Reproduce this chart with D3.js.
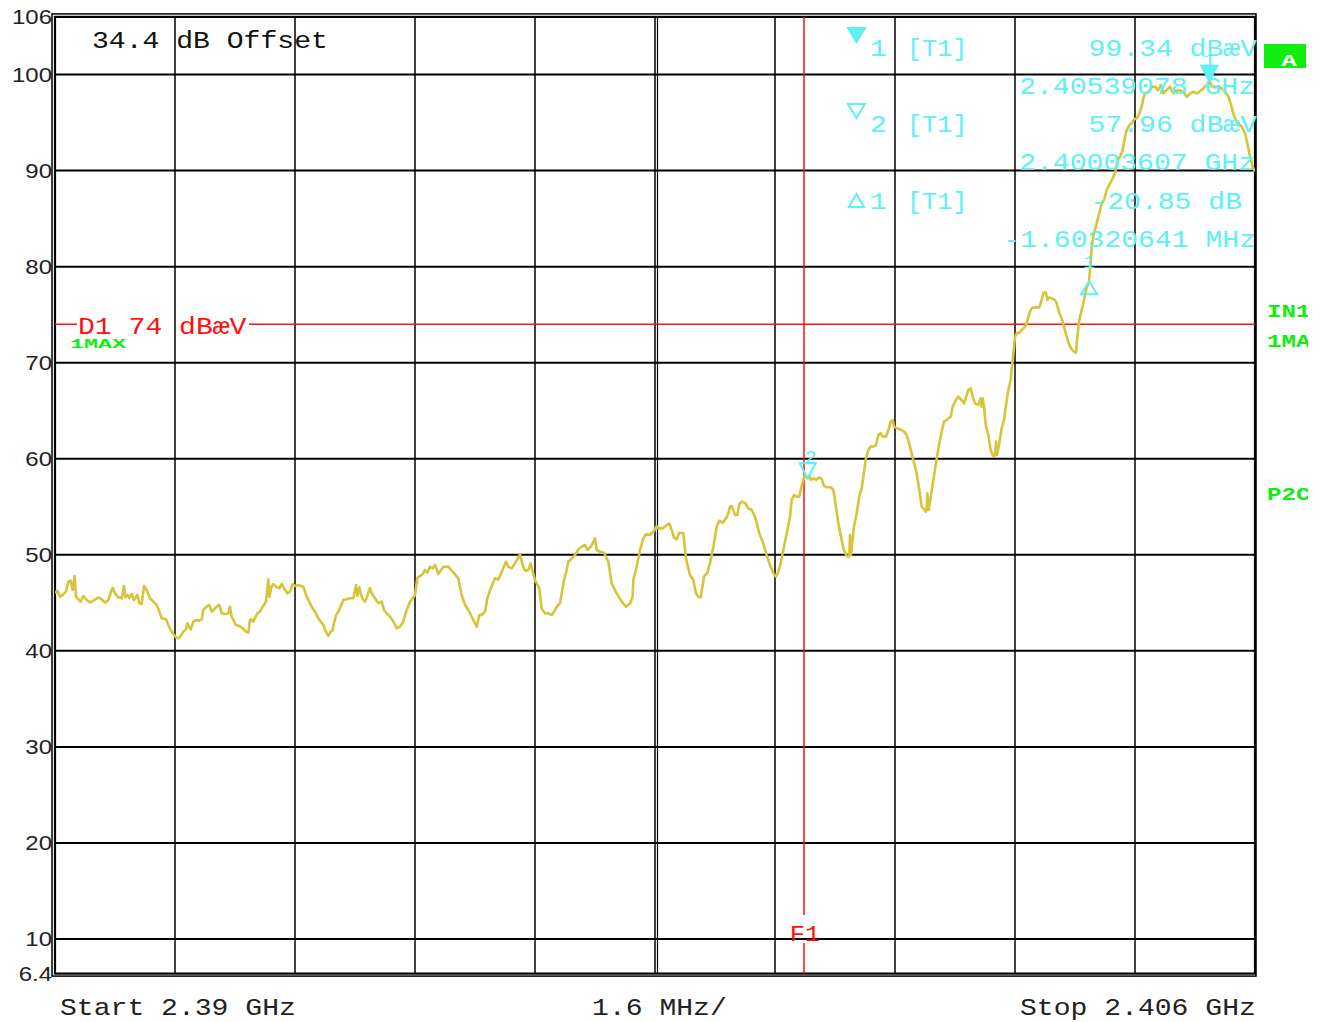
<!DOCTYPE html>
<html>
<head>
<meta charset="utf-8">
<script src="https://cdn.jsdelivr.net/npm/d3@7"></script>
<style>
  html, body { margin: 0; padding: 0; background: #fff; }
  svg { display: block; }
</style>
</head>
<body>
<svg id="chart" width="1324" height="1022"></svg>
<script>
// ---- sweep settings ----
const startMHz = 2390;
const stopMHz = 2406;
const mhzPerDiv = 1.6;
const levelTop = 106;
const levelBottom = 6.4;
const yTickValues = [106, 100, 90, 80, 70, 60, 50, 40, 30, 20, 10, 6.4];
const yGridValues = [100, 90, 80, 70, 60, 50, 40, 30, 20, 10];

// ---- measured trace (max hold), offset from start frequency in MHz / level in dBµV ----
const traceOffsetMHz = [
  0.000,0.031,0.067,0.102,0.147,0.178,0.209,0.236,0.262,0.280,0.311,0.342,0.378,0.422,0.467,0.511,0.578,0.622,0.667,0.711,
  0.756,0.769,0.800,0.844,0.889,0.920,0.938,0.964,0.991,1.022,1.053,1.098,1.124,1.156,1.187,1.222,1.267,1.311,1.356,1.391,
  1.422,1.480,1.511,1.542,1.578,1.613,1.644,1.676,1.711,1.747,1.764,1.809,1.844,1.880,1.916,1.956,1.978,2.022,2.058,2.089,
  2.120,2.156,2.191,2.222,2.267,2.311,2.333,2.356,2.378,2.413,2.458,2.502,2.547,2.578,2.600,2.622,2.644,2.698,2.733,2.769,
  2.813,2.844,2.858,2.889,2.911,2.947,2.991,3.022,3.053,3.098,3.133,3.169,3.200,3.244,3.311,3.347,3.378,3.422,3.467,3.511,
  3.542,3.578,3.613,3.644,3.676,3.702,3.720,3.747,3.778,3.844,3.889,3.933,3.978,4.013,4.031,4.058,4.076,4.102,4.133,4.164,
  4.200,4.222,4.267,4.311,4.356,4.387,4.422,4.467,4.511,4.556,4.600,4.644,4.689,4.733,4.769,4.800,4.831,4.867,4.902,4.933,
  4.964,5.000,5.036,5.067,5.111,
  5.133,5.178,5.244,5.302,5.378,5.422,5.467,5.511,5.556,5.600,5.622,5.658,5.689,5.733,5.764,5.809,5.867,5.911,5.956,6.013,
  6.044,6.089,6.133,6.164,6.200,6.236,6.267,6.311,6.342,6.364,6.400,6.458,6.489,6.533,6.578,6.622,6.653,6.698,6.733,6.756,
  6.787,6.822,6.844,6.889,6.933,6.978,7.022,7.067,7.098,7.142,7.169,7.200,7.222,7.267,7.320,7.378,7.422,7.489,7.556,7.613,
  7.667,7.702,7.711,7.756,7.800,7.844,7.880,7.933,7.978,8.022,8.044,8.102,8.156,8.191,8.222,8.253,8.289,8.324,8.378,8.413,
  8.467,8.511,8.547,8.578,8.609,8.636,8.653,8.698,8.733,8.778,8.822,8.858,8.902,8.947,8.978,9.000,9.022,9.067,9.098,9.124,
  9.156,9.200,9.244,9.289,9.333,9.391,9.444,9.489,9.533,9.578,9.613,9.644,9.676,9.711,9.756,9.800,
  9.822,9.853,9.889,9.924,9.942,9.969,10.000,10.036,10.058,10.080,10.120,10.147,10.191,10.222,10.253,10.289,10.342,10.378,10.413,10.444,
  10.476,10.511,10.547,10.578,10.591,10.600,10.613,10.653,10.689,10.724,10.756,10.787,10.813,10.844,10.876,10.911,10.947,10.978,11.009,11.036,
  11.080,11.111,11.142,11.169,11.187,11.231,11.289,11.320,11.356,11.400,11.444,11.489,11.524,11.556,11.578,11.609,11.622,11.631,11.649,11.676,
  11.711,11.747,11.787,11.822,11.853,11.898,11.942,11.969,12.000,12.044,12.089,12.120,12.156,12.178,12.209,12.236,12.267,12.311,12.342,12.356,
  12.369,12.387,12.413,12.444,12.476,12.502,12.520,12.538,12.547,12.560,12.591,12.622,12.653,12.680,12.711,12.742,
  12.769,12.800,12.822,12.858,12.889,12.933,12.956,12.991,13.022,13.067,13.125,13.156,13.178,13.213,13.231,13.258,13.289,13.333,13.356,13.391,
  13.422,13.453,13.489,13.525,13.556,13.587,13.613,13.631,13.658,13.689,13.720,13.747,13.788,13.822,13.853,13.889,13.924,13.956,13.987,14.022,
  14.067,14.102,14.133,14.164,14.200,14.236,14.267,14.289,14.325,14.356,14.387,14.423,14.458,14.489,14.511,14.533,14.578,14.623,14.667,14.711,
  14.743,14.778,14.822,14.867,14.911,14.934,14.978,15.045,15.089,15.134,15.178,15.223,15.258,15.311,15.356,15.391,15.423,15.467,15.511,15.556,
  15.578,15.614,15.645,15.676,15.703,15.734,15.765,15.823,15.867,15.898,15.934,15.969,16.000
];
const traceLevel = [
  46.00,46.27,45.64,45.82,46.16,47.20,47.31,46.34,47.79,45.64,45.37,45.12,45.71,45.30,45.05,45.23,45.57,45.37,45.02,45.30,
  46.34,46.55,45.99,45.57,45.47,46.75,45.57,45.82,45.50,45.92,45.30,45.82,44.95,44.88,46.75,46.34,45.47,45.12,44.78,44.08,
  43.39,43.28,42.70,42.17,41.76,41.41,41.31,41.55,42.00,42.24,42.87,42.24,43.04,43.21,43.14,43.28,44.26,44.60,44.78,44.08,
  44.33,44.60,44.78,43.91,43.84,43.91,44.60,43.56,43.21,42.69,42.59,42.35,42.00,41.90,43.21,43.28,43.04,43.91,44.08,44.60,
  45.12,47.45,45.64,46.75,46.96,46.68,46.51,46.96,46.51,45.99,46.16,46.96,46.75,46.86,46.68,45.82,45.30,44.60,44.08,43.39,
  43.04,42.69,42.00,41.55,42.00,42.17,42.87,43.73,44.08,45.30,45.37,45.47,45.47,46.86,45.71,46.61,45.99,45.37,45.12,45.71,
  46.55,45.99,45.47,44.95,45.12,44.26,43.91,43.56,43.04,42.35,42.52,43.04,44.26,45.12,45.47,45.82,47.55,47.79,48.00,48.42,
  48.14,48.77,48.59,48.94,48.00,
  48.24,48.76,48.76,48.24,47.55,45.81,44.77,44.25,43.56,42.86,42.51,43.73,43.73,44.08,45.46,46.50,47.55,47.44,48.24,49.28,
  48.76,48.59,49.11,49.52,50.08,48.93,48.34,48.41,49.11,48.41,47.37,46.50,44.42,43.90,43.90,43.73,44.08,44.67,44.94,45.98,
  47.37,48.41,49.28,49.63,49.97,50.56,50.84,51.02,50.50,50.84,51.19,51.71,50.50,50.32,50.22,49.28,47.03,45.98,45.12,44.60,
  44.94,45.64,47.37,48.76,50.50,51.71,52.13,52.09,52.40,52.99,52.75,52.75,53.10,53.27,52.58,51.81,51.61,52.30,52.23,49.63,
  47.89,47.37,45.98,45.64,45.57,46.85,47.72,48.14,49.11,50.84,52.92,53.55,53.34,53.79,54.31,55.01,55.08,54.14,54.14,55.28,
  55.53,55.42,54.83,54.66,53.97,52.23,51.19,49.97,48.93,48.07,47.72,48.24,49.11,50.50,52.23,53.97,
  55.71,56.23,56.06,56.06,56.75,57.60,58.31,57.96,58.21,57.79,57.96,57.79,58.07,57.86,57.17,57.03,57.03,56.75,55.01,53.28,
  52.07,50.68,49.98,49.81,49.88,52.07,49.98,52.93,54.32,56.06,56.92,58.66,60.05,60.91,61.26,61.26,61.43,62.47,62.65,62.30,
  62.30,62.99,63.86,64.04,63.34,63.17,62.99,62.82,62.47,61.26,59.87,58.48,56.75,55.01,54.84,54.49,54.67,56.40,54.67,56.06,
  57.79,59.53,61.43,62.82,63.86,64.11,64.38,65.42,65.94,66.47,66.12,65.77,66.64,67.16,67.33,66.47,65.77,65.60,66.29,65.42,
  66.29,65.42,63.34,62.47,60.91,60.39,60.22,60.57,61.78,60.39,61.61,63.17,64.04,65.60,67.16,68.20,
  70.28,72.71,73.06,73.13,73.40,73.75,74.10,75.14,75.66,75.76,75.76,76.53,77.29,77.29,76.53,76.80,76.70,76.53,76.18,75.14,
  74.62,73.75,72.71,71.84,71.39,71.15,71.05,72.71,74.45,75.49,76.53,77.57,78.49,82.08,83.47,84.51,85.55,86.59,86.94,87.98,
  88.67,89.19,89.71,91.10,91.45,92.14,93.53,94.22,94.74,94.92,95.33,95.44,95.96,96.65,97.52,98.04,98.21,98.73,98.73,98.39,
  98.91,98.04,98.39,98.73,98.04,98.21,98.39,98.21,97.69,98.04,98.21,98.04,98.21,98.56,98.91,99.34,98.80,98.66,98.73,98.56,
  98.39,98.04,97.69,97.00,96.13,95.44,94.92,94.57,93.88,92.84,91.45,90.41,89.90
];

// ---- display line, frequency line and markers ----
const displayLineLevel = 74;
const f1MHz = 2399.987;
const markerLabels = ["1", "2", "1"];
const markerKinds = ["filled", "open", "delta"];
const markerFreqMHz = [2405.39078, 2400.03607, 2403.78757];
const markerLevels = [99.34, 57.96, 78.49];

// ---- texts ----
const offsetText = "34.4 dB Offset";
const displayLineText = "D1 74 dBæV";
const readoutIds = ["1", "2", "1"];
const readoutTraces = ["[T1]", "[T1]", "[T1]"];
const readoutValues = ["99.34 dBæV", "57.96 dBæV", "-20.85 dB"];
const readoutFreqs = ["2.40539078 GHz", "2.40003607 GHz", "-1.60320641 MHz"];
const bottomTexts = ["Start 2.39 GHz", "1.6 MHz/", "Stop 2.406 GHz"];
const sideTexts = ["IN1", "1MA", "P2C"];

const CYAN = "#5ef0f4";
const RED = "#ff1010";
const GREEN = "#10ee10";
const TRACE = "#d6c43a";

const svg = d3.select("#chart");
const plotLeft = 55, plotRight = 1255, plotTop = 16.9, plotBottom = 973.6;

const x = d3.scaleLinear().domain([startMHz, stopMHz]).range([plotLeft, plotRight]);
const y = d3.scaleLinear().domain([levelBottom, levelTop]).range([plotBottom, plotTop]);

const MONO = "'Liberation Mono','DejaVu Sans Mono',monospace";

function mono(g, px, py, str, color, opt = {}) {
  return g.append("text")
    .attr("transform", `translate(${px},${py}) scale(${opt.sx || 1.17},${opt.sy || 1})`)
    .attr("font-family", MONO)
    .attr("font-size", opt.size || 24)
    .attr("font-weight", opt.weight || "normal")
    .attr("text-anchor", opt.anchor || "start")
    .attr("fill", color)
    .text(str);
}

svg.append("rect").attr("width", 1324).attr("height", 1022).attr("fill", "#fff");

// ---- grid ----
const grid = svg.append("g");
grid.selectAll("line.h").data(yGridValues).join("line")
  .attr("x1", plotLeft).attr("x2", plotRight)
  .attr("y1", d => y(d)).attr("y2", d => y(d))
  .attr("stroke", "#000").attr("stroke-width", 2);

const vGrid = d3.range(1, 10).map(i => startMHz + i * mhzPerDiv);
grid.selectAll("line.v").data(vGrid).join("line")
  .attr("x1", d => x(d)).attr("x2", d => x(d))
  .attr("y1", plotTop).attr("y2", plotBottom)
  .attr("stroke", "#000").attr("stroke-width", 1.5);
// centre division drawn doubled
grid.append("line")
  .attr("x1", x(startMHz + 5 * mhzPerDiv) + 2.5).attr("x2", x(startMHz + 5 * mhzPerDiv) + 2.5)
  .attr("y1", plotTop).attr("y2", plotBottom)
  .attr("stroke", "#000").attr("stroke-width", 1.2);

// ---- frame ----
svg.append("rect")
  .attr("x", plotLeft).attr("y", plotTop)
  .attr("width", plotRight - plotLeft).attr("height", plotBottom - plotTop)
  .attr("fill", "none").attr("stroke", "#000").attr("stroke-width", 2.2);
svg.append("rect")
  .attr("x", plotLeft - 3).attr("y", plotTop - 3)
  .attr("width", plotRight - plotLeft + 4).attr("height", plotBottom - plotTop + 5.5)
  .attr("fill", "none").attr("stroke", "#000").attr("stroke-width", 1.5);

// ---- y tick labels ----
svg.append("g").selectAll("text").data(yTickValues).join("text")
  .attr("transform", d => `translate(52,${y(d) + 7}) scale(1.2,1)`)
  .attr("text-anchor", "end")
  .attr("font-family", "'Liberation Sans',Arial,sans-serif")
  .attr("font-size", 20)
  .attr("fill", "#222")
  .text(d => d);

// ---- display line D1 ----
const d1y = y(displayLineLevel);
svg.append("line").attr("x1", plotLeft).attr("x2", 77).attr("y1", d1y).attr("y2", d1y)
  .attr("stroke", RED).attr("stroke-width", 1.5);
svg.append("line").attr("x1", 249).attr("x2", plotRight).attr("y1", d1y).attr("y2", d1y)
  .attr("stroke", RED).attr("stroke-width", 1.5);

// ---- frequency line F1 ----
const f1x = x(f1MHz);
svg.append("line").attr("x1", f1x).attr("x2", f1x).attr("y1", plotTop).attr("y2", 915)
  .attr("stroke", RED).attr("stroke-width", 1.5);
svg.append("line").attr("x1", f1x).attr("x2", f1x).attr("y1", 943).attr("y2", plotBottom)
  .attr("stroke", RED).attr("stroke-width", 1.5);
mono(svg, f1x + 1, 941, "F1", RED, { anchor: "middle", size: 22, sx: 1.15 });

// ---- trace ----
const traceData = traceOffsetMHz.map((o, i) => ({ f: startMHz + o, v: traceLevel[i] }));
svg.append("defs").append("clipPath").attr("id", "plotClip")
  .append("rect").attr("x", plotLeft).attr("y", plotTop)
  .attr("width", plotRight - plotLeft).attr("height", plotBottom - plotTop);
svg.append("path")
  .datum(traceData)
  .attr("clip-path", "url(#plotClip)")
  .attr("fill", "none")
  .attr("stroke", TRACE)
  .attr("stroke-width", 2.6)
  .attr("stroke-linejoin", "round")
  .attr("d", d3.line().x(d => x(d.f)).y(d => y(d.v)));

// ---- markers on the trace ----
const markerG = svg.append("g");
markerFreqMHz.forEach((f, i) => {
  const mx = x(f), my = y(markerLevels[i]);
  const kind = markerKinds[i];
  let path, labelY, labelDx = 0;
  if (kind === "delta") {
    path = `M${mx},${my} L${mx + 8},${my + 13} L${mx - 8},${my + 13} Z`;
    labelY = my - 13;
  } else {
    path = `M${mx - 8},${my - 15} L${mx + 8},${my - 15} L${mx},${my} Z`;
    labelY = my - 15;
    if (kind === "open") labelDx = 3;
  }
  markerG.append("path").attr("d", path)
    .attr("fill", kind === "filled" ? CYAN : "none")
    .attr("stroke", CYAN).attr("stroke-width", 2);
  mono(markerG, mx + labelDx, labelY, markerLabels[i], CYAN, { anchor: "middle", size: 18, sx: 1.1 });
});

// ---- marker readout table ----
const rd = svg.append("g");
const rowBase = [56, 132, 209];
const freqBase = [94, 170, 247];
const valueEnd = [1257, 1257, 1242];
const freqEnd = [1255, 1255, 1256];
rowBase.forEach((b, i) => {
  const k = markerKinds[i];
  let icon;
  if (k === "delta") icon = `M856.5,${b - 15} L864,${b - 2} L849,${b - 2} Z`;
  else icon = `M848,${b - 28} L865,${b - 28} L856.5,${b - 14} Z`;
  rd.append("path").attr("d", icon)
    .attr("fill", k === "filled" ? CYAN : "none")
    .attr("stroke", CYAN).attr("stroke-width", 2);
  mono(rd, 870, b, readoutIds[i], CYAN);
  mono(rd, 907, b, readoutTraces[i], CYAN, { sx: 1.05 });
  mono(rd, valueEnd[i], b, readoutValues[i], CYAN, { anchor: "end" });
  mono(rd, freqEnd[i], freqBase[i], readoutFreqs[i], CYAN, { anchor: "end" });
});

// ---- annotations ----
mono(svg, 92, 48, offsetText, "#111");
mono(svg, 78, 334, displayLineText, RED);
mono(svg, 70, 348, "1MAX", GREEN, { size: 18, weight: "bold", sx: 1.3, sy: 0.75 });

// status box
svg.append("rect").attr("x", 1264).attr("y", 44).attr("width", 42).attr("height", 24).attr("fill", GREEN);
mono(svg, 1289, 66, "A", "#fff", { anchor: "middle", size: 20, weight: "bold", sx: 1.3, sy: 0.85 });

// side indicators, cut at the screen edge
svg.select("defs").append("clipPath").attr("id", "edgeClip")
  .append("rect").attr("x", 1260).attr("y", 0).attr("width", 48).attr("height", 1022);
const side = svg.append("g").attr("clip-path", "url(#edgeClip)");
[317, 347, 500].forEach((b, i) => {
  mono(side, 1267, b, sideTexts[i], GREEN, { size: 21, weight: "bold", sx: 1.15, sy: 0.85 });
});

// ---- bottom labels ----
mono(svg, 60, 1015, bottomTexts[0], "#222");
mono(svg, 592, 1015, bottomTexts[1], "#222");
mono(svg, 1020, 1015, bottomTexts[2], "#222");
</script>
</body>
</html>
